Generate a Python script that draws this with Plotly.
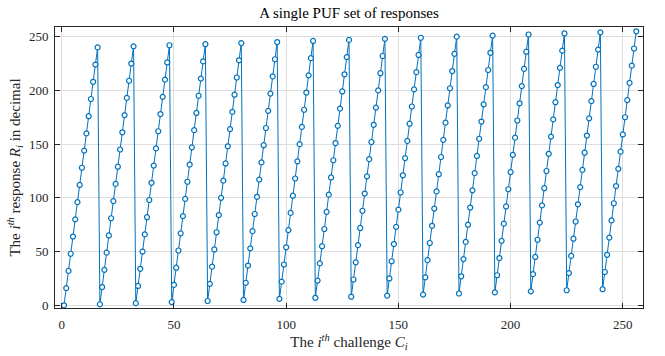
import plotly.graph_objects as go

# challenge index (x) and response values (y)
challenges = list(range(1, 257))
responses = [
    0, 16, 32, 48, 64, 80, 96, 112, 128, 144, 160, 176, 192, 208, 224, 240,
    1, 17, 33, 49, 65, 81, 97, 113, 129, 145, 161, 177, 193, 209, 225, 241,
    2, 18, 34, 50, 66, 82, 98, 114, 130, 146, 162, 178, 194, 210, 226, 242,
    3, 19, 35, 51, 67, 83, 99, 115, 131, 147, 163, 179, 195, 211, 227, 243,
    4, 20, 36, 52, 68, 84, 100, 116, 132, 148, 164, 180, 196, 212, 228, 244,
    5, 21, 37, 53, 69, 85, 101, 117, 133, 149, 165, 181, 197, 213, 229, 245,
    6, 22, 38, 54, 70, 86, 102, 118, 134, 150, 166, 182, 198, 214, 230, 246,
    7, 23, 39, 55, 71, 87, 103, 119, 135, 151, 167, 183, 199, 215, 231, 247,
    8, 24, 40, 56, 72, 88, 104, 120, 136, 152, 168, 184, 200, 216, 232, 248,
    9, 25, 41, 57, 73, 89, 105, 121, 137, 153, 169, 185, 201, 217, 233, 249,
    10, 26, 42, 58, 74, 90, 106, 122, 138, 154, 170, 186, 202, 218, 234, 250,
    11, 27, 43, 59, 75, 91, 107, 123, 139, 155, 171, 187, 203, 219, 235, 251,
    12, 28, 44, 60, 76, 92, 108, 124, 140, 156, 172, 188, 204, 220, 236, 252,
    13, 29, 45, 61, 77, 93, 109, 125, 141, 157, 173, 189, 205, 221, 237, 253,
    14, 30, 46, 62, 78, 94, 110, 126, 142, 158, 174, 190, 206, 222, 238, 254,
    15, 31, 47, 63, 79, 95, 111, 127, 143, 159, 175, 191, 207, 223, 239, 255,
]
x_ticks = [0, 50, 100, 150, 200, 250]
y_ticks = [0, 50, 100, 150, 200, 250]

FONT = "Liberation Serif"
BLUE = "#0072BD"
AX = "#262626"

fig = go.Figure()
fig.add_trace(go.Scatter(
    x=challenges, y=responses, mode="lines+markers",
    line=dict(color=BLUE, width=1),
    marker=dict(symbol="circle", size=5, color="white",
                line=dict(color=BLUE, width=1.2)),
    showlegend=False,
))

axis_common = dict(
    showline=True, linecolor=AX, linewidth=1, mirror="ticks",
    ticks="inside", ticklen=5, tickcolor=AX, tickwidth=1,
    showgrid=True, gridcolor="#dedede", gridwidth=1,
    zeroline=False,
    tickfont=dict(family=FONT, size=13, color=AX),
)

fig.update_layout(
    width=665, height=356,
    margin=dict(l=55, r=22, t=27, b=39),
    paper_bgcolor="white", plot_bgcolor="white",
    title=dict(text="A single PUF set of responses", x=0.5, xanchor="center",
               xref="paper", y=0.965, yanchor="middle",
               font=dict(family=FONT, size=15, color="black")),
    xaxis=dict(range=[-3, 259], tickvals=x_ticks, ticklabelstandoff=4,
               title=dict(text="The <i>i</i><sup><i>th</i></sup> challenge <i>C</i><sub><i>i</i></sub>",
                          font=dict(family=FONT, size=15, color=AX), standoff=2),
               **axis_common),
    yaxis=dict(range=[-2.5, 259], tickvals=y_ticks, ticklabelstandoff=3,
               title=dict(text="The <i>i</i><sup><i>th</i></sup> response <i>R</i><sub><i>i</i></sub> in decimal",
                          font=dict(family=FONT, size=15, color=AX), standoff=4),
               **axis_common),
)

fig.write_html("out.html")
